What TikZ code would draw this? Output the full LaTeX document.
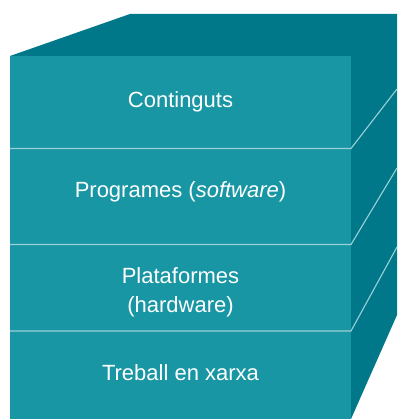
\documentclass[tikz,border=0pt]{standalone}
\usepackage{fontspec}
\setmainfont{Liberation Sans}
\definecolor{frontteal}{HTML}{1896A4}
\definecolor{darkteal}{HTML}{00788A}
\definecolor{divider}{HTML}{9CD0D8}
\begin{document}
\begin{tikzpicture}[x=1pt,y=-1pt,
  layer/.style={text=white,font=\fontsize{22}{29}\selectfont,anchor=base,align=center,inner sep=0pt},
  sep/.style={draw=divider,line width=1.1pt}]
\useasboundingbox (0,0) rectangle (397,419);
\begin{scope}
\clip (0,0) rectangle (397,419);
% box corners
\coordinate (ftl) at (10,56);
\coordinate (ftr) at (351,56);
\coordinate (fbl) at (10,419);
\coordinate (fbr) at (351,419);
% top and side faces, in one piece
\fill[darkteal] (ftl) -- (130,14) -- (397,14) -- (397,315) -- (fbr) -- (ftr) -- cycle;
% front face
\fill[frontteal] (ftl) rectangle (fbr);
% layer dividers, carried round onto the side face
\coordinate (d1) at (351,148.5);
\coordinate (d2) at (351,244.5);
\coordinate (d3) at (351,331);
\draw[sep] (10,148.5) -- (d1) -- (397,89);
\draw[sep] (10,244.5) -- (d2) -- (397,168);
\draw[sep] (10,331) -- (d3) -- (397,247);
\end{scope}
% layer labels
\node[layer] (contents) at (180.5,107.5) {Continguts};
\node[layer] (software) at (180.5,198) {Programes (\textit{software})};
\node[layer] (platforms) at (180.5,312) {Plataformes\\(hardware)};
\node[layer] (network) at (180.5,380) {Treball en xarxa};
\end{tikzpicture}
\end{document}
